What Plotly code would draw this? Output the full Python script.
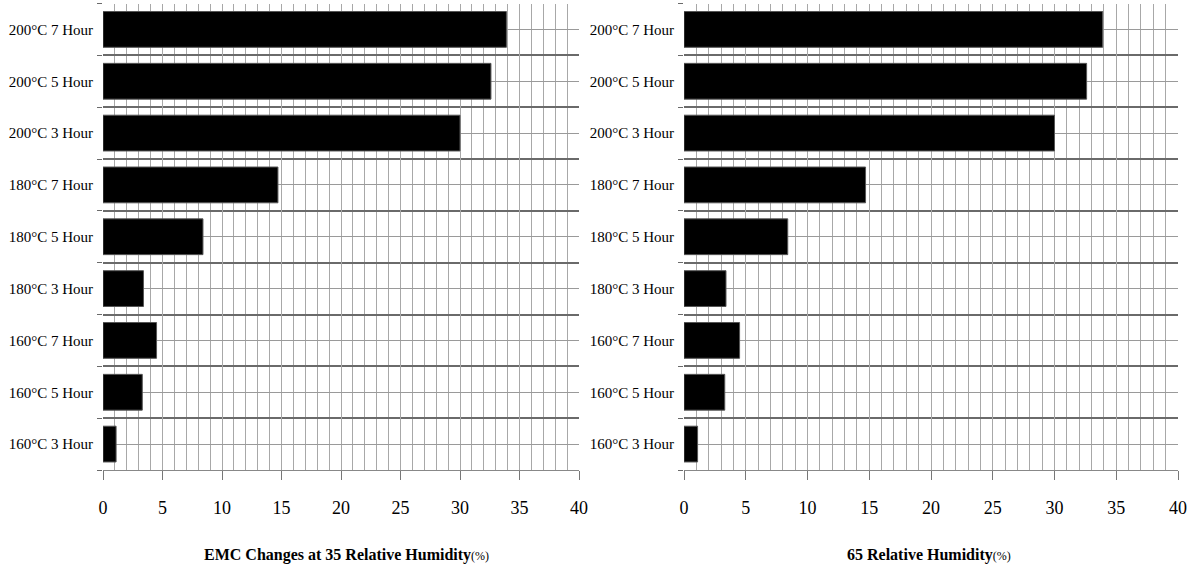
import plotly.graph_objects as go

categories = ["160°C 3 Hour", "160°C 5 Hour", "160°C 7 Hour",
              "180°C 3 Hour", "180°C 5 Hour", "180°C 7 Hour",
              "200°C 3 Hour", "200°C 5 Hour", "200°C 7 Hour"]
emc_35rh = [1.1, 3.3, 4.5, 3.4, 8.4, 14.7, 30.0, 32.6, 33.9]
emc_65rh = [1.1, 3.3, 4.5, 3.4, 8.4, 14.7, 30.0, 32.6, 33.9]
x_ticks = [0, 5, 10, 15, 20, 25, 30, 35, 40]
title_left = "<b>EMC Changes at 35 Relative Humidity</b><span style='font-size:12px'>(%)</span>"
title_right = "<b>65 Relative Humidity</b><span style='font-size:12px'>(%)</span>"

FONT = "Liberation Serif"
pos = list(range(len(categories)))
bounds = [p - 0.5 for p in pos] + [pos[-1] + 0.5]

fig = go.Figure()
for vals, xa, ya in [(emc_35rh, "x", "y"), (emc_65rh, "x2", "y2")]:
    fig.add_trace(go.Bar(
        x=vals, y=pos, orientation="h", width=0.69,
        marker=dict(color="black", line=dict(color="#555555", width=1)),
        xaxis=xa, yaxis=ya, showlegend=False, hoverinfo="x+y"))

xcommon = dict(
    range=[0, 40], tickvals=x_ticks, ticks="outside", ticklen=9, tickcolor="#777777",
    showgrid=True, gridcolor="#a8a8a8", gridwidth=1, zeroline=False,
    showline=True, linecolor="#888888", linewidth=1,
    minor=dict(dtick=1, tick0=0, showgrid=True, gridcolor="#a8a8a8", gridwidth=1),
    tickfont=dict(family=FONT, size=18, color="black"),
    ticklabelstandoff=12, fixedrange=True, automargin=False,
)
ycommon = dict(
    range=[-0.5, len(categories) - 0.5], tickvals=pos, ticktext=categories,
    ticks="", showgrid=True, gridcolor="#9a9a9a", gridwidth=1, zeroline=False,
    showline=False,
    minor=dict(tickvals=bounds, showgrid=True, gridcolor="#6a6a6a", gridwidth=1.5,
               ticks="outside", ticklen=5, tickcolor="#6a6a6a"),
    tickfont=dict(family=FONT, size=15, color="black"),
    ticklabelstandoff=9, fixedrange=True, automargin=False,
)

fig.update_layout(
    width=1200, height=575,
    margin=dict(l=0, r=0, t=0, b=0, autoexpand=False),
    paper_bgcolor="white", plot_bgcolor="white",
    bargap=0.31,
    xaxis=dict(domain=[103 / 1200, 579 / 1200], anchor="y", **xcommon),
    yaxis=dict(domain=[1 - 470 / 575, 1 - 3.5 / 575], anchor="x", **ycommon),
    xaxis2=dict(domain=[684 / 1200, 1178 / 1200], anchor="y2", **xcommon),
    yaxis2=dict(domain=[1 - 470 / 575, 1 - 3.5 / 575], anchor="x2", **ycommon),
    annotations=[
        dict(text=title_left, xref="paper", yref="paper", x=346 / 1200, y=1 - 555 / 575,
             xanchor="center", yanchor="middle", showarrow=False,
             font=dict(family=FONT, size=16, color="black")),
        dict(text=title_right, xref="paper", yref="paper", x=929 / 1200, y=1 - 555 / 575,
             xanchor="center", yanchor="middle", showarrow=False,
             font=dict(family=FONT, size=16, color="black")),
    ],
)

fig.write_html("out.html", config={"displayModeBar": False},
               post_script="document.body.style.margin='0';document.body.style.overflow='hidden';")
